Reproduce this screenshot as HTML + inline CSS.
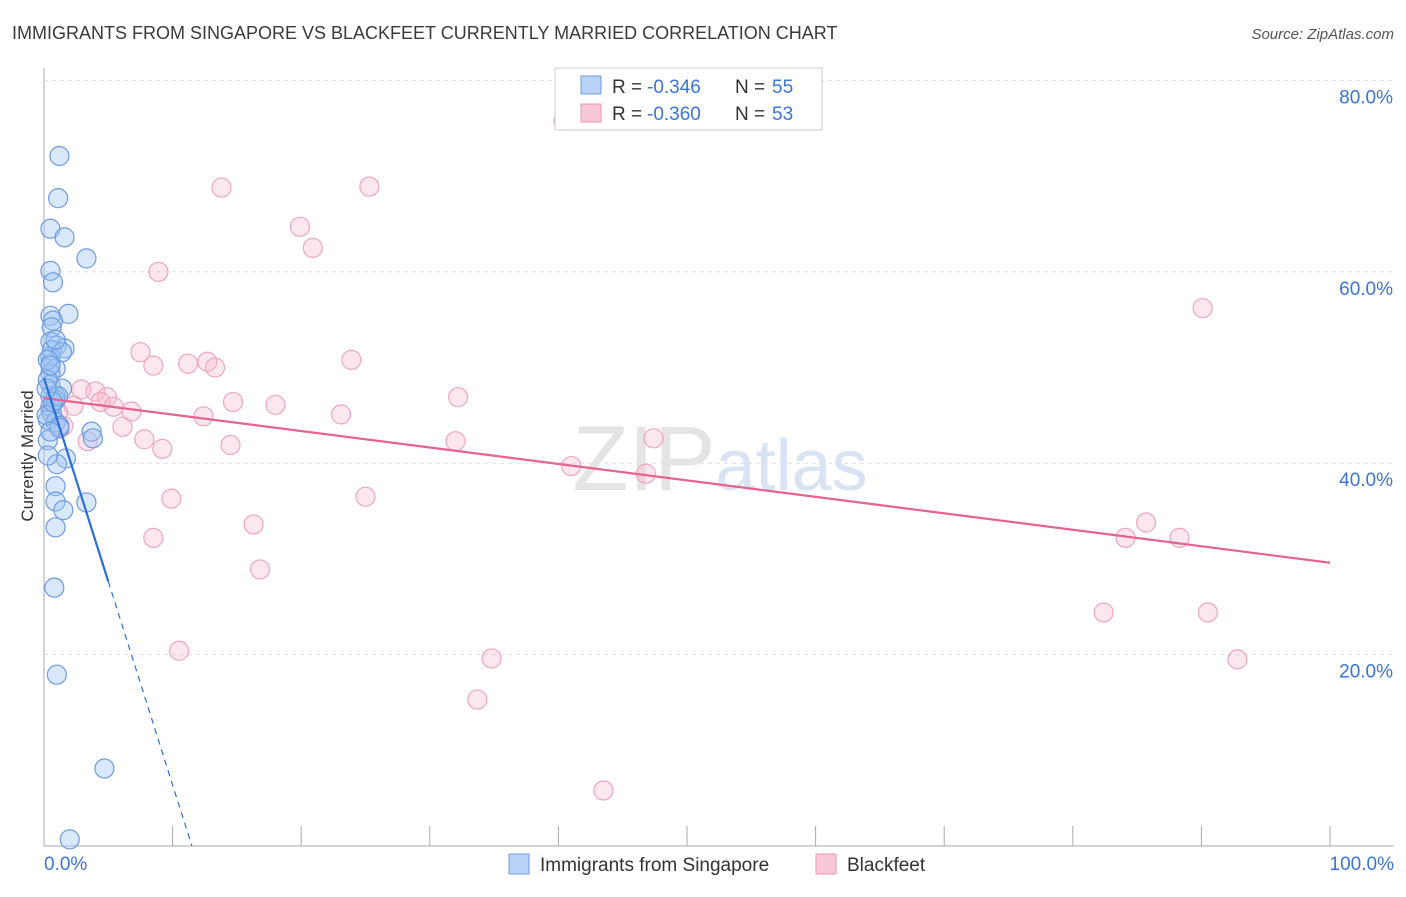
<!DOCTYPE html>
<html><head><meta charset="utf-8"><style>
body{margin:0;background:#fff;font-family:"Liberation Sans",sans-serif;}
svg text{font-family:"Liberation Sans",sans-serif;}
</style></head><body>
<svg id="chart" width="1406" height="892" xmlns="http://www.w3.org/2000/svg">
<text x="12" y="39" font-size="18" fill="#3a3a3a">IMMIGRANTS FROM SINGAPORE VS BLACKFEET CURRENTLY MARRIED CORRELATION CHART</text>
<text x="1394" y="39" font-size="15" fill="#555" text-anchor="end" font-style="italic">Source: ZipAtlas.com</text>
<text transform="translate(33,456) rotate(-90)" font-size="17" fill="#333" text-anchor="middle">Currently Married</text>
<g id="grid"></g>
<text x="720" y="490" font-size="92" fill="#e4e4e4" text-anchor="middle" font-family="Liberation Serif">ZIP<tspan fill="#d8e4f4" font-family="Liberation Sans" font-size="72">atlas</tspan></text>
<g id="pts"></g>
<g id="lines"></g>
<g>
<rect x="555" y="68" width="267" height="62" fill="#fff" stroke="#ccc"/>
<rect x="581" y="76" width="20" height="18" fill="#b8d3f5" stroke="#6f9ee0"/>
<rect x="581" y="104" width="20" height="18" fill="#f9c8d6" stroke="#e896ae"/>
<text x="612" y="93" font-size="19" fill="#333">R =</text>
<text x="647" y="93" font-size="19" fill="#3a75d6">-0.346</text>
<text x="735" y="93" font-size="19" fill="#333">N =</text>
<text x="772" y="93" font-size="19" fill="#3a75d6">55</text>
<text x="612" y="120" font-size="19" fill="#333">R =</text>
<text x="647" y="120" font-size="19" fill="#3a75d6">-0.360</text>
<text x="735" y="120" font-size="19" fill="#333">N =</text>
<text x="772" y="120" font-size="19" fill="#3a75d6">53</text>
</g>
<g>
<rect x="509" y="854" width="20" height="20" fill="#b8d3f5" stroke="#6f9ee0"/>
<text x="540" y="871" font-size="19" fill="#333">Immigrants from Singapore</text>
<rect x="816" y="854" width="20" height="20" fill="#f9c8d6" stroke="#e896ae"/>
<text x="847" y="871" font-size="19" fill="#333">Blackfeet</text>
</g>
</svg>
<script>
const yTicks=[20,40,60,80];
const xTickLabels=["0.0%","100.0%"];
const blueX=[1.2,1.1,0.5,1.6,3.3,0.5,0.7,1.9,0.5,0.7,0.6,0.5,1.0,1.6,0.5,0.5,0.9,0.5,0.5,1.4,0.5,0.9,0.5,0.6,0.3,0.9,1.2,3.7,3.8,0.3,1.7,1.0,0.9,0.9,3.3,1.5,0.9,0.8,1.0,4.7,2.0,0.3,0.6,0.9,1.2,0.2,0.5,0.3,1.1,0.7,0.2,1.4,0.3,0.9,0.5];
const blueY=[72.1,67.7,64.5,63.6,61.4,60.1,58.9,55.6,55.4,54.9,54.2,52.7,52.3,52.0,51.1,50.4,49.9,49.4,48.2,47.8,47.0,47.0,45.9,45.3,44.5,44.3,43.9,43.3,42.6,42.4,40.5,39.9,37.6,36.0,35.9,35.1,33.3,27.0,17.9,8.1,0.7,48.7,51.8,46.6,43.7,45.0,43.3,40.8,47.0,46.4,47.8,51.6,50.8,52.9,50.2];
const pinkX=[40.4,13.8,25.3,19.9,20.9,8.9,90.1,7.5,23.9,11.2,12.7,13.3,8.5,2.9,4.0,4.9,4.4,5.4,2.3,6.8,14.7,18.0,32.2,12.4,23.1,1.5,6.1,7.8,9.2,14.5,32.0,47.4,41.0,46.8,3.4,9.9,25.0,16.3,8.5,16.8,85.7,84.1,88.3,10.5,34.8,82.4,90.5,92.8,33.7,43.5,0.5,1.1,1.2];
const pinkY=[75.8,68.8,68.9,64.7,62.5,60.0,56.2,51.6,50.8,50.4,50.6,50.0,50.2,47.7,47.5,46.9,46.4,45.9,46.0,45.4,46.4,46.1,46.9,44.9,45.1,43.9,43.8,42.5,41.5,41.9,42.3,42.6,39.7,38.9,42.3,36.3,36.5,33.6,32.2,28.9,33.8,32.2,32.2,20.4,19.6,24.4,24.4,19.5,15.3,5.8,45.5,45.3,43.6];
const pinkTrend=[46.8,29.6];
const blueTrend=[48.9,0];
const blueTrendEnd=11.5, blueSolidEnd=5.0;
const NS="http://www.w3.org/2000/svg";
const X=v=>44+v*12.86, Y=v=>846-v*9.57;
function mk(tag,attrs,parent){const e=document.createElementNS(NS,tag);for(const k in attrs)e.setAttribute(k,attrs[k]);parent.appendChild(e);return e;}
const grid=document.getElementById('grid');
mk('line',{x1:44,y1:68,x2:44,y2:846,stroke:'#aaa'},grid);
mk('line',{x1:44,y1:846,x2:1394,y2:846,stroke:'#aaa'},grid);
for(let i=1;i<=10;i++){const l=mk('line',{x1:X(i*10),y1:826,x2:X(i*10),y2:846,stroke:'#aaa'},grid);
 
 }
yTicks.forEach(t=>{
 const l=mk('line',{x1:44,y1:Y(t),x2:1394,y2:Y(t),stroke:'#ddd','stroke-dasharray':'4,4'},grid);
 
 
 const tx=mk('text',{x:1393,y:Y(t)+23,'font-size':19,fill:'#3a75d6','text-anchor':'end'},grid);
 tx.textContent=t.toFixed(1)+'%';
 
 
});
const a=mk('text',{x:44,y:870,'font-size':19,fill:'#3a75d6'},grid);a.textContent=xTickLabels[0];


const b=mk('text',{x:1394,y:870,'font-size':19,fill:'#3a75d6','text-anchor':'end'},grid);b.textContent=xTickLabels[1];


const pts=document.getElementById('pts');
pinkX.forEach((v,i)=>{const c=mk('circle',{cx:X(v),cy:Y(pinkY[i]),r:9.5,fill:'rgba(248,185,205,0.35)',stroke:'#eea6bd','stroke-width':1.2},pts);
 
 });
blueX.forEach((v,i)=>{const c=mk('circle',{cx:X(v),cy:Y(blueY[i]),r:9.5,fill:'rgba(160,198,242,0.4)',stroke:'#6c9ce2','stroke-width':1.2},pts);
 
 });
const lines=document.getElementById('lines');
const pl=mk('line',{x1:X(0),y1:Y(pinkTrend[0]),x2:X(100),y2:Y(pinkTrend[1]),stroke:'#e7628f','stroke-width':2.2},lines);


const by=x=>blueTrend[0]+(blueTrend[1]-blueTrend[0])*x/blueTrendEnd;
const bl=mk('line',{x1:X(0),y1:Y(by(0)),x2:X(blueSolidEnd),y2:Y(by(blueSolidEnd)),stroke:'#2a6fd8','stroke-width':2.2},lines);


const bd=mk('line',{x1:X(blueSolidEnd),y1:Y(by(blueSolidEnd)),x2:X(blueTrendEnd),y2:Y(by(blueTrendEnd)),stroke:'#2a6fd8','stroke-width':1.2,'stroke-dasharray':'6,5'},lines);


</script>
</body></html>
